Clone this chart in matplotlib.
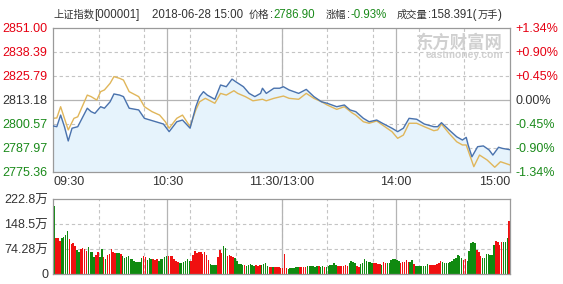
import matplotlib.pyplot as plt

plt.rcParams['font.family'] = ['Liberation Sans', 'Noto Sans CJK SC']

# ==========================
# DATOS
# ==========================

# minutos desde 09:30 (0..240) y precio del índice
price_t = [0, 2, 4, 6, 8, 10, 13, 18, 20, 22, 25, 27, 30, 32, 35, 37, 40, 45, 48, 51,
           54, 58, 61, 65, 68, 72, 75, 77, 79, 81, 85, 88, 91, 94, 96, 100, 103, 106,
           109, 110, 112, 116, 119, 121, 124, 129, 133, 137, 141, 144, 149, 153, 156,
           159, 163, 166, 170, 173, 178, 181, 184, 187, 191, 195, 200, 202, 204, 208,
           212, 215, 217, 218, 220, 223, 226, 229, 231, 234, 236, 240]
price_v = [2799.4, 2799.0, 2805.1, 2799.0, 2791.5, 2798.2, 2799.0, 2808.7, 2806.9, 2806.0,
           2809.5, 2808.7, 2812.1, 2816.2, 2815.6, 2814.8, 2808.7, 2807.8, 2803.4, 2802.5,
           2801.6, 2800.4, 2796.4, 2801.6, 2802.5, 2798.2, 2809.5, 2814.8, 2817.4, 2815.6,
           2813.4, 2820.9, 2820.0, 2824.0, 2822.6, 2820.0, 2816.5, 2814.8, 2816.5, 2819.2,
           2816.5, 2819.2, 2819.2, 2820.0, 2818.3, 2816.5, 2818.6, 2814.8, 2812.1, 2811.3,
           2809.5, 2810.4, 2807.8, 2806.9, 2803.4, 2801.6, 2802.5, 2800.8, 2798.2, 2796.4,
           2798.2, 2803.4, 2802.9, 2800.4, 2799.0, 2799.0, 2801.1, 2797.3, 2793.7, 2792.0,
           2793.4, 2789.4, 2783.2, 2788.5, 2788.9, 2786.8, 2784.1, 2788.2, 2787.6, 2786.9]

# línea amarilla (precio promedio)
avg_t = [0, 2, 4, 6, 8, 11, 13, 18, 20, 23, 25, 27, 30, 32, 35, 37, 40, 45, 48, 52,
         56, 59, 61, 65, 68, 72, 75, 77, 80, 85, 88, 91, 95, 97, 101, 105, 110, 112,
         116, 121, 124, 129, 133, 137, 141, 144, 149, 153, 157, 159, 163, 166, 170,
         173, 178, 181, 184, 187, 191, 195, 200, 202, 204, 208, 212, 215, 217, 221,
         224, 228, 232, 235, 240]
avg_v = [2803.4, 2803.6, 2809.5, 2803.4, 2797.3, 2803.4, 2804.2, 2815.6, 2814.8, 2813.0,
         2817.4, 2818.3, 2821.8, 2825.3, 2824.4, 2823.5, 2817.4, 2814.8, 2809.5, 2806.9,
         2805.1, 2801.6, 2798.2, 2803.4, 2805.1, 2799.0, 2807.8, 2812.1, 2813.9, 2811.3,
         2816.5, 2815.6, 2817.9, 2816.5, 2814.8, 2812.6, 2813.4, 2812.6, 2813.9, 2815.1,
         2813.9, 2813.4, 2816.5, 2813.9, 2812.1, 2810.4, 2808.1, 2809.5, 2806.3, 2805.1,
         2801.6, 2800.8, 2802.0, 2799.9, 2796.4, 2792.9, 2794.6, 2800.8, 2800.8, 2799.0,
         2796.9, 2797.3, 2800.4, 2795.5, 2791.1, 2789.4, 2789.4, 2778.0, 2784.1, 2781.5,
         2777.7, 2780.6, 2778.9]

# volumen por minuto (万手), 20 por fila
volume = [202, 108, 108, 98, 108, 111, 116, 128, 104, 88, 91, 84, 71, 66, 74, 78, 73, 68, 81, 64,
          64, 51, 56, 64, 51, 74, 51, 45, 56, 58, 74, 66, 61, 61, 61, 58, 54, 48, 51, 53,
          45, 46, 39, 36, 35, 35, 48, 53, 51, 41, 48, 45, 44, 41, 44, 40, 46, 46, 50, 52,
          54, 54, 52, 45, 39, 35, 32, 34, 37, 39, 45, 39, 39, 57, 68, 61, 66, 64, 58, 64,
          56, 41, 29, 27, 27, 27, 51, 71, 61, 83, 78, 54, 56, 54, 51, 48, 39, 29, 29, 27,
          27, 25, 27, 29, 27, 25, 27, 25, 27, 27, 29, 32, 25, 22, 22, 22, 22, 21, 21, 19,
          19, 59, 19, 15, 17, 19, 19, 22, 22, 22, 22, 22, 22, 25, 25, 24, 25, 22, 25, 25,
          22, 25, 22, 22, 25, 27, 27, 32, 27, 25, 25, 25, 25, 27, 25, 32, 39, 35, 32, 25,
          22, 29, 32, 45, 39, 35, 35, 32, 32, 32, 29, 29, 27, 35, 32, 32, 32, 42, 46, 45,
          42, 39, 32, 35, 37, 42, 37, 37, 42, 29, 25, 25, 25, 25, 25, 25, 29, 27, 27, 27,
          27, 29, 32, 39, 37, 32, 32, 34, 37, 39, 45, 49, 56, 52, 49, 42, 45, 39, 67, 92,
          94, 92, 71, 66, 52, 47, 49, 58, 58, 56, 56, 86, 98, 96, 86, 94, 94, 94, 108, 157]
# r = sube, g = baja (20 por fila)
vol_dir = ("grrrggggrrrrggrrrrgg"
           "ggrrggrgrrrrrggrgggg"
           "gggggggrrgggrrrggggg"
           "rrrrrrggggggrrrrrrrr"
           "rrggggrrrggrrrrggggg"
           "rgggggrrrggggrrgrrrr"
           "rrrggggggrrrrggggggr"
           "ggrggggggrrrrrrggggr"
           "rgggggggrrrrgrrggggg"
           "ggrrrrrggrgggggggrrr"
           "rrrrgggggggggggrrggg"
           "ggrrrgggggggrrrrgggr")
assert len(volume) == 240 and len(vol_dir) == 240

# ejes y
price_ticks = [2851.00, 2838.39, 2825.79, 2813.18, 2800.57, 2787.97, 2775.36]
pct_labels = ["+1.34%", "+0.90%", "+0.45%", "0.00%", "-0.45%", "-0.90%", "-1.34%"]
vol_ticks = [0, 74.28, 148.5, 222.8]
vol_labels = ["0", "74.28万", "148.5万", "222.8万"]
time_ticks = [0, 60, 120, 180, 240]
time_labels = ["09:30", "10:30", "11:30/13:00", "14:00", "15:00"]

RED = "#e60012"
GREEN = "#1a8a1a"
DARK = "#333333"

# ==========================
# FIGURA
# ==========================

W, H = 563, 284
fig = plt.figure(figsize=(W / 100, H / 100), dpi=100)


def box(x0, y0, x1, y1):
    return [x0 / W, 1 - y1 / H, (x1 - x0) / W, (y1 - y0) / H]


ax = fig.add_axes(box(53, 27.7, 510, 171.7))
axv = fig.add_axes(box(53, 199, 510, 274))

dash = (0, (3, 2.5))
for a in (ax, axv):
    a.set_xlim(0, 240)
    for s in a.spines.values():
        s.set_color("#9a9a9a")
        s.set_linewidth(0.9)
    a.tick_params(length=0, labelsize=9)
    for k in range(1, 10):
        a.axvline(k * 24, color="#c4c4c4", lw=0.8, ls=dash, zorder=0)
    for t in (60, 120, 180):
        a.axvline(t, color="#b4b4b4", lw=0.9, zorder=0)

# ---- precio
ymin, ymax = price_ticks[-1], price_ticks[0]
ax.set_ylim(ymin, ymax)
for v in price_ticks[1:-1]:
    if abs(v - 2813.18) < 0.01:
        ax.axhline(v, color="#b4b4b4", lw=0.9, zorder=0)
    else:
        ax.axhline(v, color="#c4c4c4", lw=0.8, ls=dash, zorder=0)

ax.fill_between(price_t, price_v, ymin, color="#e6f3fc", zorder=1)
ax.plot(avg_t, avg_v, color="#e0b65a", lw=1.0, zorder=2)
ax.plot(price_t, price_v, color="#4a72ad", lw=1.0, zorder=3)

ax.set_yticks(price_ticks)
ax.set_yticklabels([f"{v:.2f}" for v in price_ticks])
colors = [RED, RED, RED, DARK, GREEN, GREEN, GREEN]
for lab, c in zip(ax.get_yticklabels(), colors):
    lab.set_color(c)
ax.tick_params(axis="y", pad=4)

ax2 = ax.twinx()
ax2.set_ylim(ymin, ymax)
ax2.set_yticks(price_ticks)
ax2.set_yticklabels(pct_labels)
ax2.tick_params(length=0, labelsize=9, pad=4)
for s in ax2.spines.values():
    s.set_visible(False)
for lab, c in zip(ax2.get_yticklabels(), colors):
    lab.set_color(c)

ax.set_xticks(time_ticks)
ax.set_xticklabels(time_labels, color=DARK)
ax.tick_params(axis="x", pad=3)
xl = ax.get_xticklabels()
xl[0].set_ha("left")
xl[-1].set_ha("right")

# marca de agua
ax.text(0.985, 0.965, "东方财富网", transform=ax.transAxes, ha="right", va="top",
        fontsize=12.5, fontweight="bold", color="#d0d0d0", zorder=1)
ax.text(0.985, 0.845, "eastmoney.com", transform=ax.transAxes, ha="right", va="top",
        fontsize=7.5, fontweight="bold", color="#d0d0d0", zorder=1)

# ---- volumen
axv.set_ylim(0, 222.8)
for v in (74.28, 148.5):
    axv.axhline(v, color="#c4c4c4", lw=0.8, ls=dash, zorder=0)
bar_x = [i + 0.6 for i in range(len(volume))]
bar_c = ["#f01010" if d == "r" else "#108a10" for d in vol_dir]
axv.bar(bar_x, volume, width=0.8, color=bar_c, zorder=2)
axv.set_yticks(vol_ticks)
axv.set_yticklabels(vol_labels, color=DARK)
axv.set_xticks([])

# ---- encabezado (cada grupo empieza en su x; dentro del grupo el texto fluye)
y_h = 1 - 15 / H
CJK = 7.4
LAT = 8.3
renderer = fig.canvas.get_renderer()
header = [
    (53, [("上证指数", DARK, CJK), ("[000001]", DARK, LAT)]),
    (152, [("2018-06-28 15:00", DARK, LAT)]),
    (249, [("价格", DARK, CJK), (":", DARK, LAT), ("2786.90", GREEN, LAT)]),
    (326, [("涨幅", DARK, CJK), (":", DARK, LAT), ("-0.93%", GREEN, LAT)]),
    (397, [("成交量", DARK, CJK), (":158.391(", DARK, LAT), ("万手", DARK, CJK),
           (")", DARK, LAT)]),
]
for x0, parts in header:
    x = x0
    for s, c, fs in parts:
        t = fig.text(x / W, y_h, s, fontsize=fs, color=c, va="center")
        x = t.get_window_extent(renderer).x1 + 0.5

plt.savefig("out.png", dpi=100)
